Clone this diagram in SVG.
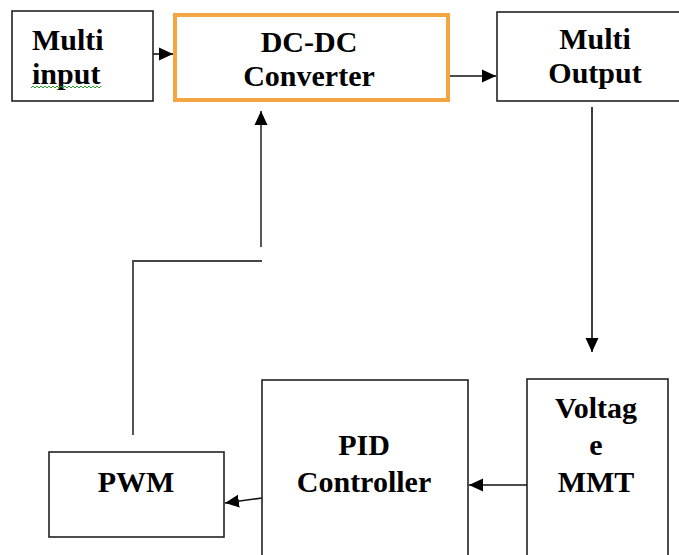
<svg xmlns="http://www.w3.org/2000/svg" width="679" height="555" viewBox="0 0 679 555">
  <style>
    .box { fill: #ffffff; stroke: #222222; stroke-width: 1.6; }
    .hot { fill: #ffffff; stroke: #F2A541; stroke-width: 4; }
    .lbl { font-family: "Liberation Serif", "Times New Roman", serif; font-weight: bold; font-size: 30px; fill: #000000; }
    .mid { text-anchor: middle; }
    .wire { fill: none; stroke: #111111; stroke-width: 1.6; }
    .soft { fill: none; stroke: #444444; stroke-width: 1.8; }
    .squiggle { fill: none; stroke: #2a9d2a; stroke-width: 1; }
  </style>
  <defs>
    <marker id="arrow" markerUnits="userSpaceOnUse" markerWidth="14" markerHeight="14" viewBox="0 0 14 14" refX="14" refY="7" orient="auto">
      <path d="M0,0.5 L14,7 L0,13.5 Z" fill="#000000"/>
    </marker>
  </defs>

  <!-- Connectors -->
  <g id="connectors">
    <line class="wire" x1="153" y1="54" x2="173" y2="54" marker-end="url(#arrow)"/>
    <line class="wire" x1="450" y1="76" x2="496" y2="76" marker-end="url(#arrow)"/>
    <line class="wire" x1="592" y1="107" x2="592" y2="352" marker-end="url(#arrow)"/>
    <line class="wire" x1="527" y1="485" x2="469" y2="485" marker-end="url(#arrow)"/>
    <line class="wire" x1="262" y1="498" x2="225" y2="503" marker-end="url(#arrow)"/>
    <polyline class="soft" points="133,435 133,261 262,261"/>
    <line class="soft" x1="261" y1="247" x2="261" y2="111" marker-end="url(#arrow)"/>
  </g>

  <!-- Nodes -->
  <g id="multi-input">
    <rect class="box" x="12" y="11" width="141" height="90"/>
    <text class="lbl" x="32" y="50">Multi</text>
    <text class="lbl" x="32" y="84">input</text>
    <path class="squiggle" d="M31,88 l2,-2 l2,2 l2,-2 l2,2 l2,-2 l2,2 l2,-2 l2,2 l2,-2 l2,2 l2,-2 l2,2 l2,-2 l2,2 l2,-2 l2,2 l2,-2 l2,2 l2,-2 l2,2 l2,-2 l2,2 l2,-2 l2,2 l2,-2 l2,2 l2,-2 l2,2 l2,-2 l2,2 l2,-2 l2,2 l2,-2 l2,2 l2,-2"/>
  </g>

  <g id="dc-dc-converter">
    <rect class="hot" x="175" y="15" width="273" height="85"/>
    <text class="lbl mid" x="309" y="52">DC-DC</text>
    <text class="lbl mid" x="309" y="86">Converter</text>
  </g>

  <g id="multi-output">
    <rect class="box" x="497" y="12" width="200" height="89"/>
    <text class="lbl mid" x="595" y="49">Multi</text>
    <text class="lbl mid" x="595" y="83">Output</text>
  </g>

  <g id="voltage-mmt">
    <rect class="box" x="527" y="379" width="141" height="200"/>
    <text class="lbl mid" x="596" y="418">Voltag</text>
    <text class="lbl mid" x="596" y="455">e</text>
    <text class="lbl mid" x="596" y="492">MMT</text>
  </g>

  <g id="pid-controller">
    <rect class="box" x="262" y="380" width="206" height="200"/>
    <text class="lbl mid" x="364" y="455">PID</text>
    <text class="lbl mid" x="364" y="492">Controller</text>
  </g>

  <g id="pwm">
    <rect class="box" x="49" y="452" width="175" height="85"/>
    <text class="lbl mid" x="136" y="492">PWM</text>
  </g>
</svg>
